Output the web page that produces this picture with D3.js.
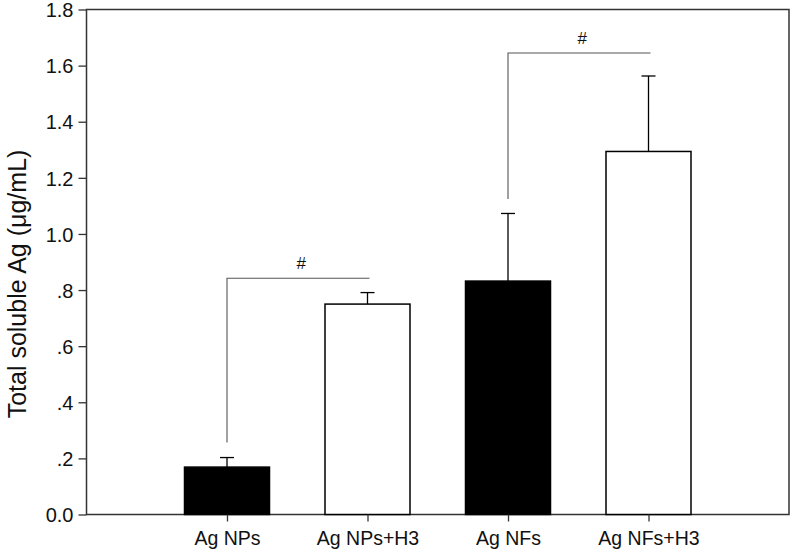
<!DOCTYPE html>
<html><head><meta charset="utf-8">
<script src="https://cdn.jsdelivr.net/npm/d3@7"></script>
<style>body{margin:0;background:#fff}</style>
</head><body>
<svg id="c" width="792" height="556"></svg>
<script>
const categories = ["Ag NPs", "Ag NPs+H3", "Ag NFs", "Ag NFs+H3"];
const values = [0.169, 0.750, 0.832, 1.294];
const errors = [0.034, 0.041, 0.241, 0.269];
const fills = ["#000", "#fff", "#000", "#fff"];
const yTicks = [0, 0.2, 0.4, 0.6, 0.8, 1.0, 1.2, 1.4, 1.6, 1.8];
const yTickLabels = ["0.0", ".2", ".4", ".6", ".8", "1.0", "1.2", "1.4", "1.6", "1.8"];
const brackets = [{from: 0, to: 1, y: 0.842, start: 0.257, label: "#"},
                  {from: 2, to: 3, y: 1.645, start: 1.125, label: "#"}];

const L = 86.5, R = 789, T = 9.5, B = 514.5;
const svg = d3.select("#c");
const x = d3.scaleLinear().domain([0, 5]).range([L, R]);
const y = d3.scaleLinear().domain([0, 1.8]).range([B, T]);
const bw = (x(1) - x(0)) * 0.605;
const font = "Liberation Sans, Arial, sans-serif";

// frame
svg.append("rect").attr("x", L).attr("y", T).attr("width", R - L).attr("height", B - T)
  .attr("fill", "none").attr("stroke", "#333").attr("stroke-width", 1.5);

// bars
categories.forEach((c, i) => {
  const cx = x(i + 1);
  svg.append("rect").attr("x", cx - bw / 2).attr("y", y(values[i]))
    .attr("width", bw).attr("height", y(0) - y(values[i]))
    .attr("fill", fills[i]).attr("stroke", "#000").attr("stroke-width", 1.5);
  svg.append("line").attr("x1", cx).attr("x2", cx).attr("y1", y(values[i])).attr("y2", y(values[i] + errors[i]))
    .attr("stroke", "#000").attr("stroke-width", 1.3);
  svg.append("line").attr("x1", cx - 7).attr("x2", cx + 7)
    .attr("y1", y(values[i] + errors[i])).attr("y2", y(values[i] + errors[i]))
    .attr("stroke", "#000").attr("stroke-width", 1.3);
});

// y axis
const yAxis = d3.axisLeft(y).tickValues(yTicks).tickFormat((d, i) => yTickLabels[i]).tickSize(8).tickPadding(5);
const gy = svg.append("g").attr("transform", `translate(${L},0)`).call(yAxis);
gy.select(".domain").remove();
gy.selectAll("line").attr("stroke", "#333").attr("stroke-width", 1.3);
gy.selectAll("text").attr("font-family", font).attr("font-size", 20).attr("dy", "0.36em").attr("fill", "#111");

// x axis
const xAxis = d3.axisBottom(x).tickValues([1, 2, 3, 4]).tickFormat((d) => categories[d - 1]).tickSize(7).tickPadding(10);
const gx = svg.append("g").attr("transform", `translate(0,${B})`).call(xAxis);
gx.select(".domain").remove();
gx.selectAll("line").attr("stroke", "#333").attr("stroke-width", 1.3);
gx.selectAll("text").attr("font-family", font).attr("font-size", 19.5).attr("fill", "#111");

// y label
svg.append("text").attr("transform", `translate(26,284) rotate(-90)`)
  .attr("text-anchor", "middle").attr("font-family", font).attr("font-size", 25).attr("fill", "#111")
  .text("Total soluble Ag (\u03bcg/mL)");

// significance brackets
brackets.forEach(b => {
  const x1 = x(b.from + 1), x2 = x(b.to + 1) + 2;
  svg.append("path").attr("d", `M${x1},${y(b.start)}V${y(b.y)}H${x2}`)
    .attr("fill", "none").attr("stroke", "#555").attr("stroke-width", 1.1);
  svg.append("text").attr("x", (x1 + x2) / 2 + 3).attr("y", y(b.y) - 9)
    .attr("text-anchor", "middle").attr("font-family", font).attr("font-size", 17).attr("fill", "#111")
    .text(b.label);
});
</script>
</body></html>
